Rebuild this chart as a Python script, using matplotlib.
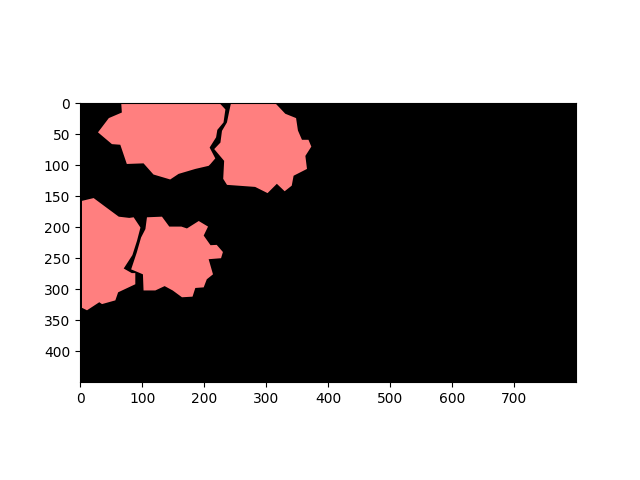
import matplotlib
matplotlib.use("Agg")
import matplotlib.pyplot as plt
from matplotlib.patches import Polygon

# image size (pixels)
img_w, img_h = 800, 450

# region outlines, (x, y) in image pixel coords
region_a = [(66, 0), (224.7, 0), (234, 10), (231, 31), (221, 43), (219, 55),
            (208.6, 71.5), (217.7, 89), (210, 98), (207, 101), (185.5, 106),
            (158.5, 114), (145, 123), (118, 115), (102, 97), (75, 98),
            (64.5, 67), (51, 66), (28.5, 47), (46, 24), (67, 15)]
region_b = [(243, 0), (314.5, 0), (330.6, 17), (348, 24), (351, 44), (357.5, 59),
            (368, 59), (372.6, 70), (363, 85), (365.6, 106), (344, 117),
            (341, 133), (329.6, 142), (317, 130), (302, 145), (282, 135),
            (236.6, 131.7), (230.5, 122), (232, 93), (216, 74),
            (226, 63.5), (228.5, 44.6), (236.5, 31), (240.8, 10)]
region_c = [(2.7, 157.5), (21.5, 153), (43, 169), (62, 183), (79, 185),
            (86, 184), (97, 200.5), (91.4, 222), (84, 245), (70, 266.6),
            (83, 274), (88.7, 274), (88.7, 292), (61, 305), (56.5, 318),
            (35, 324), (30.6, 321), (10.8, 334), (2.7, 330)]
region_d = [(107.5, 184), (131.7, 183), (143.5, 199), (163, 199), (172, 202),
            (191, 190), (206, 199), (199, 213.5), (210, 229), (220, 228.5),
            (230, 240), (227, 250), (207, 251.6), (214, 276), (204, 284),
            (199, 297), (185.5, 298), (181, 312), (164, 313), (149, 302),
            (136, 295), (121, 302), (102, 302), (101, 276), (94, 273),
            (82, 268), (91, 241), (98, 216.6), (105, 203)]
regions = [region_a, region_b, region_c, region_d]

fig, ax = plt.subplots(figsize=(6.4, 4.8), dpi=100)
ax.set_facecolor("black")
for pts in regions:
    ax.add_patch(Polygon(pts, closed=True, facecolor="#ff7f7f", edgecolor="none"))

ax.set_xlim(-0.5, img_w - 0.5)
ax.set_ylim(img_h - 0.5, -0.5)
ax.set_aspect("equal")
ax.set_xticks(range(0, 800, 100))
ax.set_yticks(range(0, 450, 50))

plt.savefig("out.png")
